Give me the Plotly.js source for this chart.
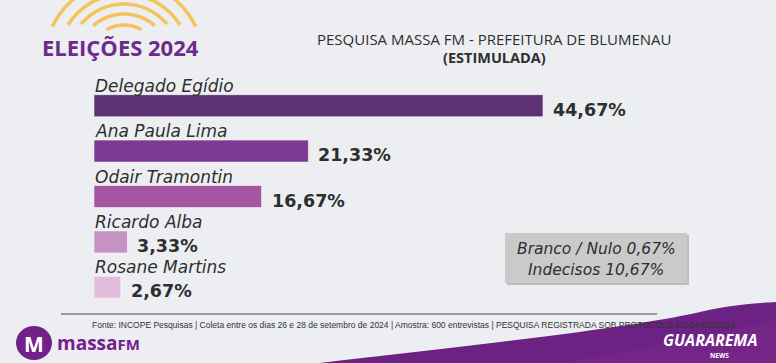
<!DOCTYPE html>
<html>
<head>
<meta charset="utf-8">
<script src="https://cdn.plot.ly/plotly-3.0.1.min.js"></script>
<style>
html,body{margin:0;padding:0;background:#eceef2;}
#chart{width:776px;height:363px;}
</style>
</head>
<body>
<div id="chart"></div>
<script>
// ---- data ----
const candidates = ["Delegado Egídio", "Ana Paula Lima", "Odair Tramontin", "Ricardo Alba", "Rosane Martins"];
const values = [44.67, 21.33, 16.67, 3.33, 2.67];
const valueLabels = ["44,67%", "21,33%", "16,67%", "3,33%", "2,67%"];
const barColors = ["#5c3275", "#7d3a92", "#a556a3", "#c692c6", "#e1bddb"];
const otherLabels = ["Branco / Nulo 0,67%", "Indecisos 10,67%"];
const chartTitle = "PESQUISA MASSA FM - PREFEITURA DE BLUMENAU";
const chartSubtitle = "(ESTIMULADA)";
const headerText = "ELEIÇÕES 2024";
const sourceText = "Fonte: INCOPE Pesquisas | Coleta entre os dias 26 e 28 de setembro de 2024 | Amostra: 600 entrevistas | PESQUISA REGISTRADA SOB PROTOCOLO SC-04469/2024";

// ---- layout geometry ----
const W = 776, H = 363;
const M = {l: 94, r: 20, t: 83, b: 53};
const PW = W - M.l - M.r, PH = H - M.t - M.b;
const px = x => (x - M.l) / PW;
const py = y => (H - M.b - y) / PH;

const textFont = "Open Sans, Lato, sans-serif";
const wideFont = "DejaVu Sans, Verdana, sans-serif";
const dark = "#2e2e2e";

function arcPath(cx, cy, r, a0, a1) {
  let d = "";
  const n = 40;
  for (let i = 0; i <= n; i++) {
    const a = (a0 + (a1 - a0) * i / n) * Math.PI / 180;
    const x = cx + r * Math.cos(a), y = cy - r * Math.sin(a);
    d += (i === 0 ? "M" : "L") + px(x).toFixed(5) + "," + py(y).toFixed(5) + " ";
  }
  return d;
}
function bez(cmds) {
  return cmds.map(c => c[0] + c.slice(1).reduce((s, v, i) => s + (i % 2 === 0 ? (i ? " " : "") + px(v).toFixed(5) : "," + py(v).toFixed(5)), "")).join(" ");
}

const trace = {
  type: "bar",
  orientation: "h",
  y: candidates,
  x: values,
  width: 0.485,
  marker: {color: barColors, line: {color: "rgba(255,255,255,0.55)", width: 1}},
  hoverinfo: "none"
};

const annotations = [];
candidates.forEach((c, i) => {
  annotations.push({
    x: 0, y: c, xref: "x", yref: "y", xanchor: "left", yanchor: "middle",
    yshift: 20, xshift: -1, showarrow: false,
    text: "<i>" + c + "</i>",
    font: {family: wideFont, size: 17, color: dark}
  });
  annotations.push({
    x: values[i], y: c, xref: "x", yref: "y", xanchor: "left", yanchor: "middle",
    xshift: 8, yshift: -4, showarrow: false,
    text: "<b>" + valueLabels[i] + "</b>",
    font: {family: wideFont, size: 17.5, color: dark}
  });
});
// titles
annotations.push({xref: "paper", yref: "paper", x: px(494), y: py(39), xanchor: "center", yanchor: "middle", showarrow: false,
  text: chartTitle, font: {family: textFont, size: 15, color: dark}});
annotations.push({xref: "paper", yref: "paper", x: px(494), y: py(57), xanchor: "center", yanchor: "middle", showarrow: false,
  text: "<b>" + chartSubtitle + "</b>", font: {family: textFont, size: 14.5, color: dark}});
annotations.push({xref: "paper", yref: "paper", x: px(40), y: py(47), xanchor: "left", yanchor: "middle", showarrow: false,
  text: "<b>" + headerText + "</b>", font: {family: textFont, size: 22, color: "#6e2b8c"}});
// other box text
annotations.push({xref: "paper", yref: "paper", x: px(596), y: py(249), xanchor: "center", yanchor: "middle", showarrow: false,
  text: "<i>" + otherLabels[0] + "</i>", font: {family: wideFont, size: 15.5, color: dark}});
annotations.push({xref: "paper", yref: "paper", x: px(596), y: py(270), xanchor: "center", yanchor: "middle", showarrow: false,
  text: "<i>" + otherLabels[1] + "</i>", font: {family: wideFont, size: 15.5, color: dark}});
// source
annotations.push({xref: "paper", yref: "paper", x: px(90), y: py(325), xanchor: "left", yanchor: "middle", showarrow: false,
  text: sourceText, font: {family: "Liberation Sans Narrow, Arial Narrow, Liberation Sans, sans-serif", size: 8.5, color: "#333"}});
// logos
annotations.push({xref: "paper", yref: "paper", x: px(34), y: py(344), xanchor: "center", yanchor: "middle", showarrow: false,
  text: "<b>M</b>", font: {family: textFont, size: 21, color: "#ffffff"}});
annotations.push({xref: "paper", yref: "paper", x: px(55), y: py(343), xanchor: "left", yanchor: "middle", showarrow: false,
  text: "<b>massa</b><span style='font-size:15px'><b>FM</b></span>", font: {family: textFont, size: 19, color: "#74208a"}});
annotations.push({xref: "paper", yref: "paper", x: px(710), y: py(340), xanchor: "center", yanchor: "middle", showarrow: false,
  text: "<b><i>GUARAREMA</i></b>", font: {family: textFont, size: 16, color: "#ffffff"}});
annotations.push({xref: "paper", yref: "paper", x: px(719), y: py(355), xanchor: "center", yanchor: "middle", showarrow: false,
  text: "<b>NEWS</b>", font: {family: textFont, size: 6.5, color: "#ffffff"}});

const shapes = [];
// sun arcs
[[35, 60, 120], [46, 48, 132], [56, 40, 140], [66, 32, 148], [79, 25, 155]].forEach(a => {
  shapes.push({type: "path", xref: "paper", yref: "paper", layer: "below",
    path: arcPath(124, 60, a[0], a[1], a[2]), line: {color: "#f5c35c", width: 3.5}});
});
// bottom purple wave
shapes.push({type: "path", xref: "paper", yref: "paper", layer: "below",
  path: bez([["M", 320, 363], ["C", 470, 345, 620, 330, 700, 312], ["C", 735, 304, 760, 303, 776, 302], ["L", 776, 363], ["Z"]]),
  fillcolor: "#6c2282", line: {width: 0}});
shapes.push({type: "path", xref: "paper", yref: "paper", layer: "below",
  path: bez([["M", 560, 363], ["C", 640, 350, 710, 335, 776, 320], ["L", 776, 363], ["Z"]]),
  fillcolor: "rgba(120,40,140,0.6)", line: {width: 0}});
// footer line
shapes.push({type: "line", xref: "paper", yref: "paper", layer: "below",
  x0: px(61), x1: px(657), y0: py(314), y1: py(314), line: {color: "#9a9a9a", width: 2}});
// other box
shapes.push({type: "rect", xref: "paper", yref: "paper", layer: "below",
  x0: px(507), x1: px(689), y0: py(235), y1: py(285), fillcolor: "#bdbdbf", line: {width: 0}});
shapes.push({type: "rect", xref: "paper", yref: "paper", layer: "below",
  x0: px(505), x1: px(687), y0: py(233), y1: py(283), fillcolor: "#cacacb", line: {width: 0}});
// massa logo circle
shapes.push({type: "circle", xref: "paper", yref: "paper", layer: "below",
  x0: px(16), x1: px(52), y0: py(326), y1: py(360), fillcolor: "#74208a", line: {width: 0}});

const layout = {
  width: W, height: H,
  margin: M,
  paper_bgcolor: "#eceef2",
  plot_bgcolor: "rgba(0,0,0,0)",
  showlegend: false,
  xaxis: {range: [0, PW * 44.67 / 449], visible: false, fixedrange: true},
  yaxis: {type: "category", categoryorder: "array", categoryarray: candidates,
    range: [4.5, -0.5], visible: false, fixedrange: true},
  annotations: annotations,
  shapes: shapes
};

Plotly.newPlot("chart", [trace], layout, {staticPlot: true, displayModeBar: false});
</script>
</body>
</html>
